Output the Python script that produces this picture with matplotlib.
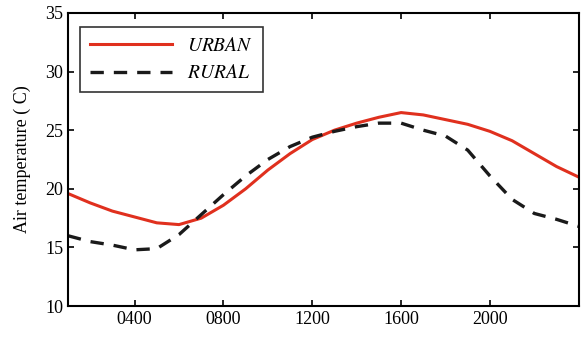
import matplotlib.pyplot as plt

# hourly air temperature, hours 0100 .. 2400
hours = [100, 200, 300, 400, 500, 600, 700, 800, 900, 1000, 1100, 1200,
         1300, 1400, 1500, 1600, 1700, 1800, 1900, 2000, 2100, 2200, 2300, 2400]
urban = [19.6, 18.8, 18.1, 17.6, 17.1, 16.95, 17.5, 18.6, 20.0, 21.6, 23.0, 24.2,
         25.0, 25.6, 26.1, 26.5, 26.3, 25.9, 25.5, 24.9, 24.1, 23.0, 21.9, 21.0]
rural = [16.0, 15.5, 15.2, 14.8, 14.9, 16.1, 17.8, 19.5, 21.1, 22.5, 23.6, 24.4,
         24.9, 25.3, 25.6, 25.6, 25.0, 24.5, 23.3, 21.1, 19.1, 17.9, 17.4, 16.8]
xticks = [400, 800, 1200, 1600, 2000]
xticklabels = ['0400', '0800', '1200', '1600', '2000']

plt.rcParams['font.family'] = ['Liberation Serif', 'DejaVu Serif']
plt.rcParams['mathtext.fontset'] = 'stix'

fig = plt.figure(figsize=(5.84, 3.39), dpi=100)
ax = fig.add_axes([0.1164, 0.097, 0.8746, 0.865])

ax.plot(hours, urban, color='#e0301e', linewidth=2.2, label='$URBAN$')
ax.plot(hours, rural, color='#1a1a1a', linewidth=2.4, linestyle=(0, (4, 3)), label='$RURAL$')

ax.set_xlim(100, 2400)
ax.set_ylim(10, 35)
ax.set_xticks(xticks)
ax.set_xticklabels(xticklabels)
ax.set_yticks([10, 15, 20, 25, 30, 35])
ax.tick_params(direction='in', top=True, right=True, labelsize=13, length=4, width=1.2)
for s in ax.spines.values():
    s.set_linewidth(1.5)
ax.set_ylabel('Air temperature ( C)', fontsize=13, labelpad=10)

leg = ax.legend(loc='upper left', fontsize=14, frameon=True, fancybox=False,
                edgecolor='black', handlelength=4.2, borderpad=0.5,
                bbox_to_anchor=(0.005, 0.985))
leg.get_frame().set_linewidth(1.2)

plt.savefig('out.png', dpi=100)
